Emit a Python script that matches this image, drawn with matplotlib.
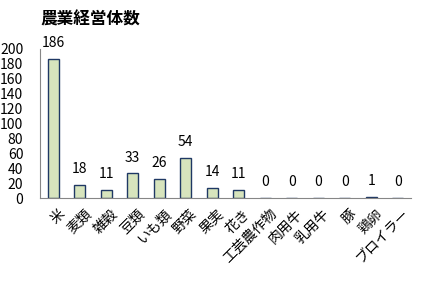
import matplotlib
matplotlib.use("Agg")
import matplotlib.pyplot as plt
import matplotlib.transforms as mtransforms

plt.rcParams['font.family'] = ['Noto Sans CJK JP', 'DejaVu Sans']

categories = ["米", "麦類", "雑穀", "豆類", "いも類", "野菜", "果実", "花き",
              "工芸農作物", "肉用牛", "乳用牛", "豚", "鶏卵", "ブロイラー"]
values = [186, 18, 11, 33, 26, 54, 14, 11, 0, 0, 0, 0, 1, 0]
title = "農業経営体数"

fig = plt.figure(figsize=(4.21, 2.81), dpi=100)
ax = fig.add_axes([0.095, 0.295, 0.881, 0.531])
x = range(len(categories))
bars = ax.bar(x, values, width=0.42, color="#d7e4bd", edgecolor="#1f3864", linewidth=1.0)
for xi, v in zip(x, values):
    ax.text(xi, v + 12, str(v), ha="center", va="bottom", fontsize=10)
ax.set_xlim(-0.5, len(categories) - 0.5)
ax.set_ylim(0, 200)
ax.set_yticks(range(0, 201, 20))
ax.tick_params(axis="y", length=0, labelsize=10, pad=12)
ax.tick_params(axis="x", length=0, labelsize=10, pad=6)
ax.set_xticks(list(x))
ax.set_xticklabels(categories, rotation=45, ha="right", rotation_mode="anchor")
offset = mtransforms.ScaledTranslation(3 / 72, 0, fig.dpi_scale_trans)
for lbl in ax.get_xticklabels():
    lbl.set_transform(lbl.get_transform() + offset)
for s in ["top", "right"]:
    ax.spines[s].set_visible(False)
ax.spines["left"].set_color("#868686")
ax.spines["bottom"].set_color("#868686")
fig.text(0.095, 0.93, title, fontsize=12, fontweight="bold", ha="left", va="center")
fig.savefig("out.png", dpi=100)
